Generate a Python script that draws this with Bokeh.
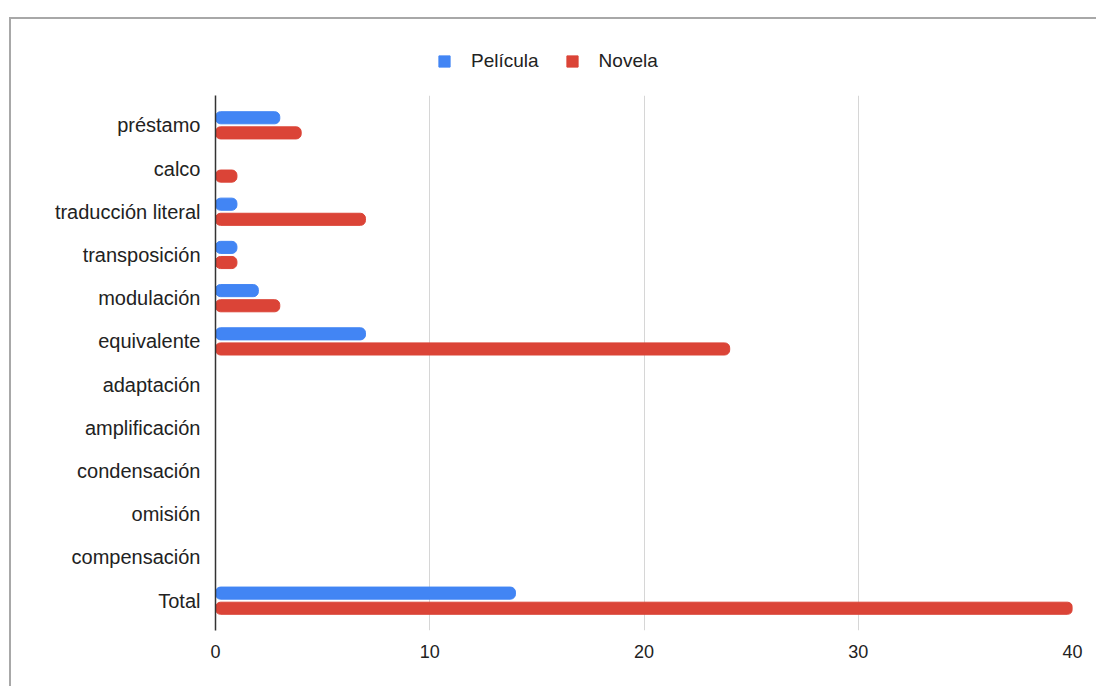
from bokeh.plotting import figure
from bokeh.layouts import column
from bokeh.models import ColumnDataSource, FactorRange, Range1d, Legend, LegendItem
from bokeh.transform import dodge
from bokeh.embed import file_html
from bokeh.resources import INLINE

categories = ["préstamo", "calco", "traducción literal", "transposición", "modulación",
              "equivalente", "adaptación", "amplificación", "condensación", "omisión",
              "compensación", "Total"]
pelicula = [3, 0, 1, 1, 2, 7, 0, 0, 0, 0, 0, 14]
novela = [4, 1, 7, 1, 3, 24, 0, 0, 0, 0, 0, 40]
series_names = ["Película", "Novela"]
x_ticks = [0, 10, 20, 30, 40]

BLUE = "#4285F4"
RED = "#DB4437"
FONT = "Liberation Sans"
TXT = "#222222"

src = ColumnDataSource(dict(cat=categories, pel=pelicula, nov=novela))

W = 1085
# ---- legend strip (top) ----
pa = figure(width=W, height=66, y_range=FactorRange(factors=categories),
            x_range=Range1d(100, 200), output_backend="svg", toolbar_location=None,
            x_axis_location=None, y_axis_location=None,
            min_border_left=0, min_border_right=0, min_border_top=0, min_border_bottom=0)
pa.outline_line_color = None
pa.grid.grid_line_color = None
la = pa.hbar(y="cat", right="pel", left=0, height=0.3, source=src, color=BLUE)
lb = pa.hbar(y="cat", right="nov", left=0, height=0.3, source=src, color=RED)
la.visible = False
lb.visible = False
legend = Legend(items=[LegendItem(label=series_names[0], renderers=[la]),
                       LegendItem(label=series_names[1], renderers=[lb])],
                orientation="horizontal", location=(222, 13),
                label_text_font=FONT, label_text_font_size="19px",
                label_text_color=TXT, glyph_width=14, glyph_height=14,
                label_standoff=20, spacing=26, border_line_color=None,
                background_fill_alpha=0, margin=0, padding=0,
                inactive_fill_alpha=0)
pa.add_layout(legend, "center")

# ---- main chart ----
yr = FactorRange(factors=list(reversed(categories)), range_padding=0.19,
                 range_padding_units="absolute")
p = figure(frame_width=857, frame_height=535, y_range=yr, x_range=(0, 40),
           output_backend="svg", toolbar_location=None,
           min_border_left=204, min_border_right=24, min_border_top=10,
           min_border_bottom=56)

r1 = p.hbar(y=dodge("cat", 0.175, range=yr), right="pel", left=0, height=0.28,
            source=src, color=BLUE, border_radius=5)
r2 = p.hbar(y=dodge("cat", -0.175, range=yr), right="nov", left=0, height=0.28,
            source=src, color=RED, border_radius=5)

p.outline_line_color = None
p.ygrid.grid_line_color = None
p.xgrid.grid_line_color = "#d6d6d6"
p.xgrid.ticker = x_ticks

p.xaxis.ticker = x_ticks
p.xaxis.axis_line_color = None
p.xaxis.major_tick_line_color = None
p.xaxis.minor_tick_line_color = None
p.xaxis.major_label_text_font = FONT
p.xaxis.major_label_text_font_size = "18px"
p.xaxis.major_label_text_color = TXT
p.xaxis.major_label_standoff = 8

p.yaxis.axis_line_color = "#333333"
p.yaxis.axis_line_width = 1.5
p.yaxis.major_tick_line_color = None
p.yaxis.minor_tick_line_color = None
p.yaxis.major_label_text_font = FONT
p.yaxis.major_label_text_font_size = "20px"
p.yaxis.major_label_text_color = TXT
p.yaxis.major_label_standoff = 9

layout = column(pa, p, spacing=0,
                styles={"margin-top": "17px", "margin-left": "9px",
                        "border-top": "2px solid #a8a8a8",
                        "border-left": "2px solid #a8a8a8"})

open("out.html", "w").write(file_html(layout, INLINE))
